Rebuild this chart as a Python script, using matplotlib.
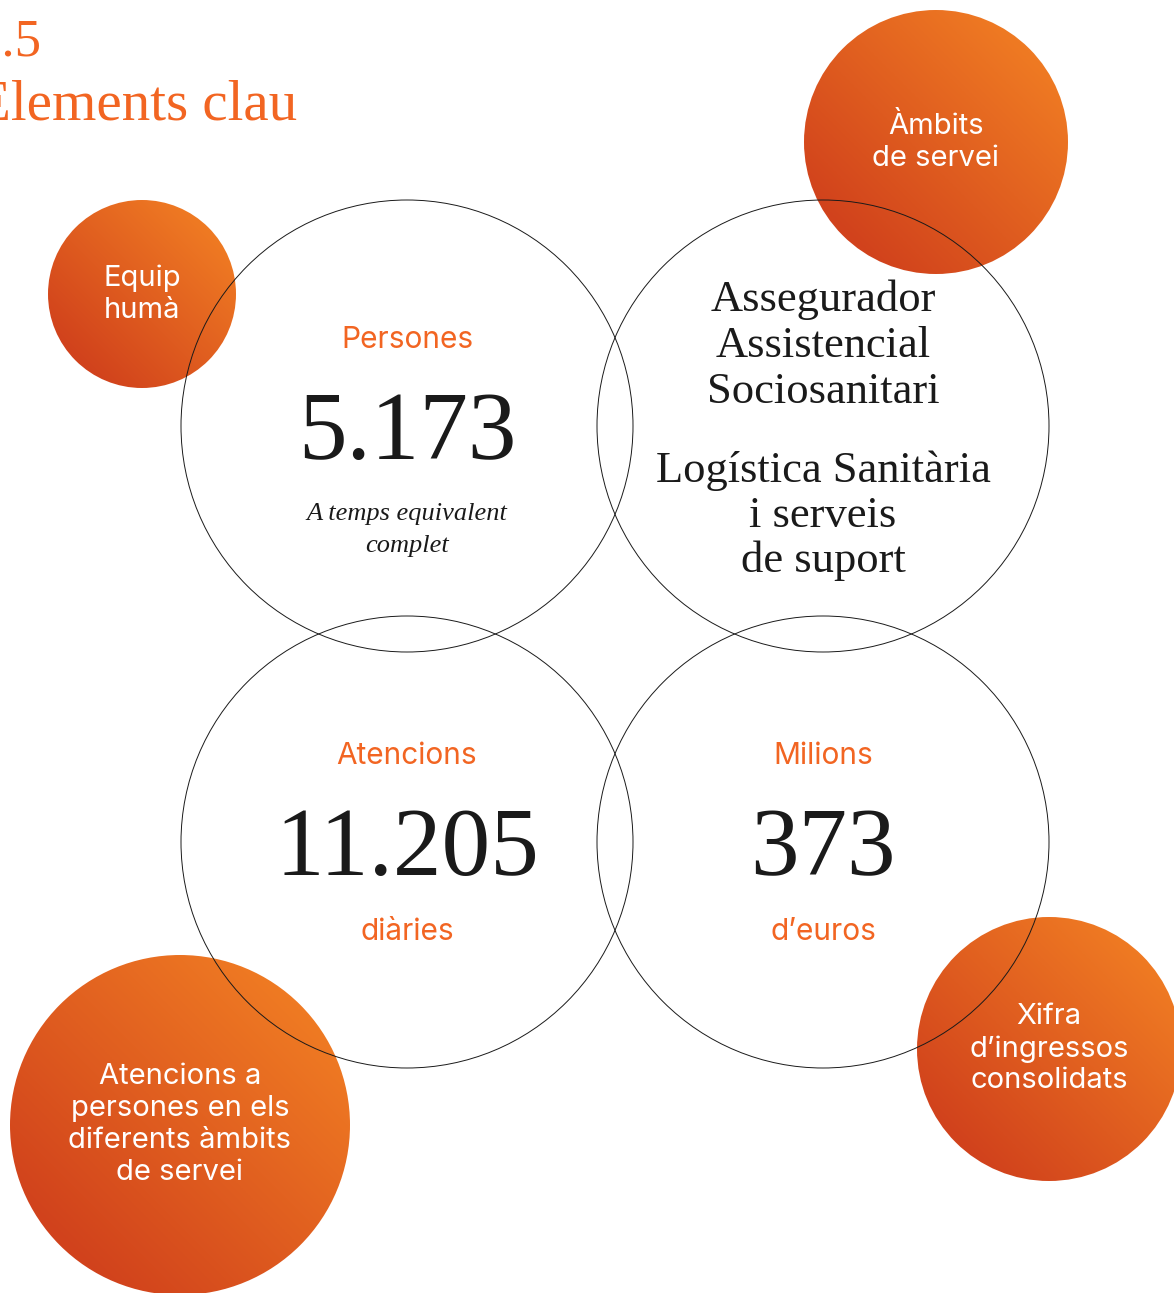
import numpy as np
import matplotlib
matplotlib.use("Agg")
import matplotlib.pyplot as plt
from matplotlib.patches import Circle
from matplotlib.colors import LinearSegmentedColormap

# %% data
heading_num = "2.5"
heading_title = "Elements clau"

# four outlined circles: label, value, caption
ring_labels = ["Persones", None, "Atencions", "Milions"]
ring_values = ["5.173", None, "11.205", "373"]
ring_captions = [["A temps equivalent", "complet"], None, ["diàries"], ["d’euros"]]
services_a = ["Assegurador", "Assistencial", "Sociosanitari"]
services_b = ["Logística Sanitària", "i serveis", "de suport"]

# orange badges
badge_texts = [["Equip", "humà"], ["Àmbits", "de servei"],
               ["Atencions a", "persones en els", "diferents àmbits", "de servei"],
               ["Xifra", "d’ingressos", "consolidats"]]

# %% layout (pixels)
W, H = 1174, 1293
ring_xy = [(407, 426), (823, 426), (407, 842), (823, 842)]
ring_r = 226
badge_xy = [(142, 294), (936, 142), (180, 1125), (1049, 1049)]
badge_r = [94, 132, 170, 132]

ORANGE = "#f26522"
DARK = "#1a1a1a"
SERIF = "Liberation Serif"
SANS = ["Inter", "DejaVu Sans"]

fig = plt.figure(figsize=(W / 100, H / 100), dpi=100)
ax = fig.add_axes([0, 0, 1, 1])
ax.set_xlim(0, W)
ax.set_ylim(H, 0)
ax.axis("off")


def lines(x, y_mid, rows, step, **kw):
    # put each row on its own, centred around y_mid
    y0 = y_mid - step * (len(rows) - 1) / 2
    for i, row in enumerate(rows):
        ax.text(x, y0 + i * step, row, ha="center", va="center", zorder=5, **kw)


grad = LinearSegmentedColormap.from_list("g", ["#d1421c", "#ef7a23"])

# badges with diagonal gradient
for (cx, cy), r in zip(badge_xy, badge_r):
    n = 200
    xs = np.linspace(-1, 1, n)
    X, Y = np.meshgrid(xs, xs)
    t = (X - Y) / 2.0 * 0.72 + 0.5
    im = ax.imshow(t, cmap=grad, vmin=0, vmax=1,
                   extent=[cx - r, cx + r, cy + r, cy - r], zorder=1)
    clip = Circle((cx, cy), r, transform=ax.transData)
    im.set_clip_path(clip)

for (x, y), rows in zip(badge_xy, badge_texts):
    lines(x, y, rows, 32, color="white", family=SANS, fontsize=21)

# outline rings
for (x, y) in ring_xy:
    ax.add_patch(Circle((x, y), ring_r, fill=False, ec=DARK, lw=0.7, zorder=3))

ax.set_xlim(0, W)
ax.set_ylim(H, 0)

# ring contents
for (x, y), lab, val, cap in zip(ring_xy, ring_labels, ring_values, ring_captions):
    if lab is None:
        continue
    ax.text(x, y - 86, lab, ha="center", va="center", color=ORANGE,
            family=SANS, fontsize=21.5, zorder=5)
    ax.text(x, y + 10, val, ha="center", va="center", color=DARK,
            family=SERIF, fontsize=70, zorder=5)
    if len(cap) > 1:
        lines(x, y + 104, cap, 32, color=DARK, family=SERIF, style="italic", fontsize=19)
    else:
        lines(x, y + 90, cap, 32, color=ORANGE, family=SANS, fontsize=21.5)

sx, sy = ring_xy[1]
lines(sx, sy - 80, services_a, 46, color=DARK, family=SERIF, fontsize=32)
lines(sx, sy + 90, services_b, 45, color=DARK, family=SERIF, fontsize=32)

# heading, cut off at the left edge like the page it came from
ax.text(42, 42, heading_num, ha="right", va="center", color=ORANGE,
        family=SERIF, fontsize=38)
ax.text(297, 105, heading_title, ha="right", va="center", color=ORANGE,
        family=SERIF, fontsize=41)

fig.savefig("out.png", dpi=100)
